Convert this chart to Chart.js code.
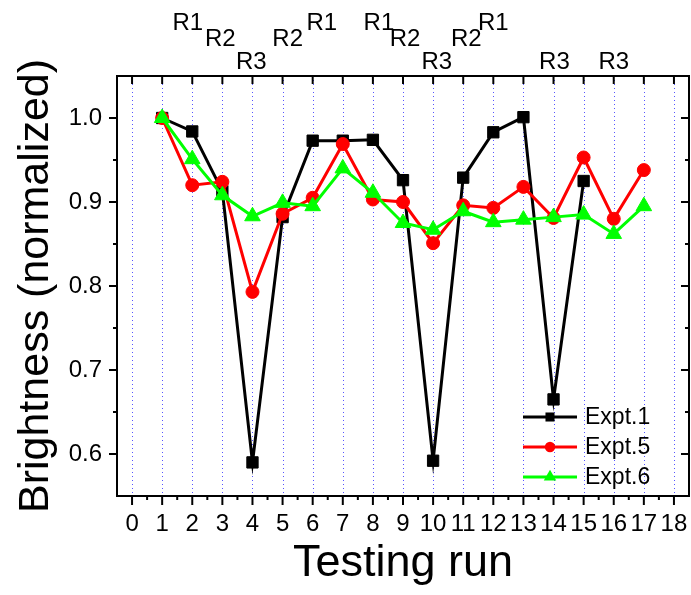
<!DOCTYPE html>
<html lang="en">
  <head>
    <meta charset="UTF-8" />
    <title>Brightness vs testing run</title>
    <style>
      html, body { margin: 0; padding: 0; background: #fff; }
    </style>
  </head>
  <body>
    <canvas id="myChart" width="691" height="595"></canvas>

    <script src="https://cdn.jsdelivr.net/npm/chart.js@4.4.0/dist/chart.umd.min.js"></script>

    <!-- chart data -->
    <script>
      var runs = [1, 2, 3, 4, 5, 6, 7, 8, 9, 10, 11, 12, 13, 14, 15, 16, 17];
      var expt1 = [1.0, 0.984, 0.913, 0.59, 0.882, 0.973, 0.973, 0.974, 0.926, 0.592, 0.929, 0.983, 1.001, 0.665, 0.925];
      var expt5 = [1.0, 0.92, 0.924, 0.793, 0.886, 0.905, 0.969, 0.903, 0.9, 0.851, 0.896, 0.893, 0.918, 0.881, 0.953, 0.88, 0.938];
      var expt6 = [1.0, 0.951, 0.908, 0.883, 0.899, 0.895, 0.94, 0.911, 0.875, 0.867, 0.889, 0.876, 0.879, 0.882, 0.885, 0.862, 0.895];

      var xTicks = [0, 1, 2, 3, 4, 5, 6, 7, 8, 9, 10, 11, 12, 13, 14, 15, 16, 17, 18];
      var yTicks = [0.6, 0.7, 0.8, 0.9, 1.0];

      // R labels above the plot: text, run position, row (0 = highest)
      var marks = ["R1", "R2", "R3", "R2", "R1", "R1", "R2", "R3", "R2", "R1", "R3", "R3"];
      var markRuns = [1.85, 2.93, 3.96, 5.17, 6.3, 8.2, 9.07, 10.12, 11.1, 12.0, 14.03, 16.0];
      var markRows = [0, 1, 2, 1, 0, 0, 1, 2, 1, 0, 2, 2];
    </script>

    <script>
      var FONT = "'Liberation Sans', Arial, sans-serif";

      function toPoints(vals) {
        return vals.map(function (v, i) {
          return { x: runs[i], y: v };
        });
      }

      function drawMarker(ctx, style, x, y, r, color) {
        ctx.fillStyle = color;
        ctx.beginPath();
        if (style === "rect") {
          var s = r * Math.SQRT1_2;
          ctx.rect(x - s, y - s, 2 * s, 2 * s);
        } else if (style === "triangle") {
          ctx.moveTo(x, y - r);
          ctx.lineTo(x + r * 0.866, y + r / 2);
          ctx.lineTo(x - r * 0.866, y + r / 2);
          ctx.closePath();
        } else {
          ctx.arc(x, y, r, 0, Math.PI * 2);
        }
        ctx.fill();
      }

      var framePlugin = {
        id: "frame",
        beforeDatasetsDraw: function (chart) {
          var ctx = chart.ctx, a = chart.chartArea, xs = chart.scales.x;
          ctx.save();
          ctx.strokeStyle = "rgba(30,30,255,0.75)";
          ctx.lineWidth = 1;
          ctx.setLineDash([1, 3]);
          xTicks.forEach(function (v) {
            var px = Math.round(xs.getPixelForValue(v)) + 0.5;
            ctx.beginPath();
            ctx.moveTo(px, a.top);
            ctx.lineTo(px, a.bottom);
            ctx.stroke();
          });
          ctx.restore();
        },
        afterDatasetsDraw: function (chart) {
          var ctx = chart.ctx, a = chart.chartArea;
          var xs = chart.scales.x, ys = chart.scales.y;
          ctx.save();
          ctx.strokeStyle = "#000";
          ctx.lineWidth = 2;
          ctx.strokeRect(a.left, a.top, a.right - a.left, a.bottom - a.top);

          function tick(x1, y1, x2, y2) {
            ctx.beginPath();
            ctx.moveTo(x1, y1);
            ctx.lineTo(x2, y2);
            ctx.stroke();
          }
          xTicks.forEach(function (v, i) {
            var px = xs.getPixelForValue(v);
            tick(px, a.bottom, px, a.bottom + 9);
            tick(px, a.top, px, a.top + 8);
            if (i < xTicks.length - 1) {
              var pm = xs.getPixelForValue(v + 0.5);
              tick(pm, a.bottom, pm, a.bottom + 4);
            }
          });
          yTicks.forEach(function (v) {
            var py = ys.getPixelForValue(v);
            tick(a.left, py, a.left - 8, py);
            tick(a.right, py, a.right - 8, py);
            if (v + 0.05 < ys.max - 0.001) {
              var pm = ys.getPixelForValue(v + 0.05);
              tick(a.left, pm, a.left - 4, pm);
              tick(a.right, pm, a.right - 4, pm);
            }
          });

          // R labels over the top axis
          var rowY = [a.top - 53, a.top - 37, a.top - 14];
          ctx.fillStyle = "#000";
          ctx.font = "24px " + FONT;
          ctx.textAlign = "center";
          ctx.textBaseline = "middle";
          marks.forEach(function (t, i) {
            ctx.fillText(t, xs.getPixelForValue(markRuns[i]), rowY[markRows[i]]);
          });

          // legend, bottom right inside the frame
          ctx.font = "23px " + FONT;
          ctx.textAlign = "left";
          chart.data.datasets.forEach(function (ds, i) {
            var y = a.bottom - 79 + i * 30;
            ctx.strokeStyle = ds.borderColor;
            ctx.lineWidth = 3;
            tick(a.right - 166, y, a.right - 112, y);
            drawMarker(ctx, ds.pointStyle, a.right - 139, y, ds.pointRadius * 0.8, ds.pointBackgroundColor);
            ctx.fillStyle = "#000";
            ctx.fillText(ds.label, a.right - 104, y + 1);
          });
          ctx.restore();
        },
      };

      var ctx = document.getElementById("myChart").getContext("2d");
      var myChart = new Chart(ctx, {
        type: "line",
        data: {
          datasets: [
            {
              label: "Expt.1",
              data: toPoints(expt1),
              borderColor: "#000000",
              backgroundColor: "#000000",
              pointBackgroundColor: "#000000",
              pointBorderColor: "#000000",
              pointStyle: "rect",
              pointRadius: 8,
              borderWidth: 3,
              pointBorderWidth: 1,
              order: 3,
            },
            {
              label: "Expt.5",
              data: toPoints(expt5),
              borderColor: "#ff0000",
              backgroundColor: "#ff0000",
              pointBackgroundColor: "#ff0000",
              pointBorderColor: "#ff0000",
              pointStyle: "circle",
              pointRadius: 6.5,
              borderWidth: 3,
              pointBorderWidth: 1,
              order: 2,
            },
            {
              label: "Expt.6",
              data: toPoints(expt6),
              borderColor: "#00ff00",
              backgroundColor: "#00ff00",
              pointBackgroundColor: "#00ff00",
              pointBorderColor: "#00ff00",
              pointStyle: "triangle",
              pointRadius: 9,
              borderWidth: 3,
              pointBorderWidth: 1,
              order: 1,
            },
          ],
        },
        options: {
          responsive: false,
          animation: false,
          layout: {
            autoPadding: false,
            padding: { top: 76, right: 2, left: 0, bottom: 0 },
          },
          plugins: {
            legend: { display: false },
            tooltip: { enabled: false },
          },
          scales: {
            x: {
              type: "linear",
              min: -0.5,
              max: 18.5,
              afterBuildTicks: function (axis) {
                axis.ticks = xTicks.map(function (v) { return { value: v }; });
              },
              afterFit: function (axis) {
                axis.height = 99;
                axis.paddingLeft = 0;
                axis.paddingRight = 0;
              },
              grid: { display: false, drawTicks: false },
              border: { display: false },
              ticks: {
                autoSkip: false,
                maxRotation: 0,
                padding: 14,
                color: "#000",
                font: { family: FONT, size: 24 },
                callback: function (v) { return String(v); },
              },
              title: {
                display: true,
                text: "Testing run",
                color: "#000",
                font: { family: FONT, size: 45 },
                padding: { top: 0, bottom: 4 },
              },
            },
            y: {
              min: 0.55,
              max: 1.05,
              afterBuildTicks: function (axis) {
                axis.ticks = yTicks.map(function (v) { return { value: v }; });
              },
              afterFit: function (axis) {
                axis.width = 117;
                axis.paddingTop = 0;
                axis.paddingBottom = 0;
              },
              grid: { display: false, drawTicks: false },
              border: { display: false },
              ticks: {
                padding: 15,
                color: "#000",
                font: { family: FONT, size: 24 },
                callback: function (v) { return v.toFixed(1); },
              },
              title: {
                display: true,
                text: "Brightness (normalized)",
                color: "#000",
                font: { family: FONT, size: 43 },
                padding: { top: 10, bottom: 0 },
              },
            },
          },
        },
        plugins: [framePlugin],
      });
    </script>
  </body>
</html>
